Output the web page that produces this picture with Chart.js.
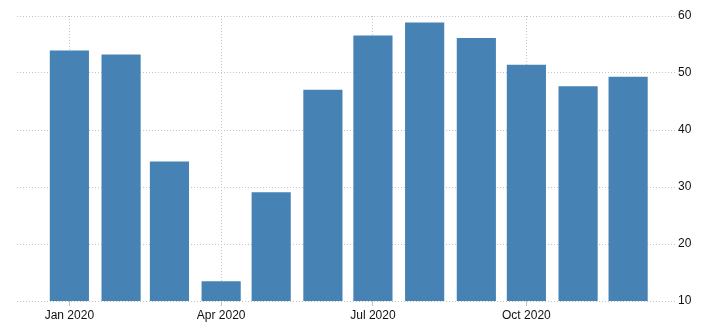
<!DOCTYPE html>
<html>
<head>
<meta charset="utf-8">
<script src="https://cdn.jsdelivr.net/npm/chart.js@4/dist/chart.umd.min.js"></script>
<style>
  html, body { margin: 0; padding: 0; background: #fff; }
  #wrap { width: 711px; height: 335px; position: relative; }
</style>
</head>
<body>
<div id="wrap"><canvas id="c" width="711" height="335"></canvas></div>
<script>
// Categories: month start dates
const months = ['2020-01-01','2020-02-01','2020-03-01','2020-04-01','2020-05-01','2020-06-01',
                '2020-07-01','2020-08-01','2020-09-01','2020-10-01','2020-11-01','2020-12-01'];
// Series values
const values = [53.9, 53.2, 34.4, 13.4, 29.0, 47.0, 56.5, 58.8, 56.1, 51.4, 47.6, 49.3];
// X tick dates and labels
const xTickDates = ['2020-01-01','2020-04-01','2020-07-01','2020-10-01'];
const xTickLabels = ['Jan 2020','Apr 2020','Jul 2020','Oct 2020'];
// Y ticks
const yTicks = [10, 20, 30, 40, 50, 60];

const DAY = 86400000;
const origin = Date.UTC(2020, 0, 1);
function dayOf(s) {
  const [y, m, d] = s.split('-').map(Number);
  return Math.round((Date.UTC(y, m - 1, d) - origin) / DAY);
}
const points = months.map((m, i) => ({ x: dayOf(m), y: values[i] }));
const xTickVals = xTickDates.map(dayOf);
const labelMap = {};
xTickVals.forEach((v, i) => { labelMap[v] = xTickLabels[i]; });

const font = { family: '"Liberation Sans", Arial, sans-serif', size: 12 };

new Chart(document.getElementById('c'), {
  type: 'bar',
  data: {
    datasets: [{
      data: points,
      backgroundColor: '#4682B4',
      borderWidth: 0,
      barThickness: 38.5
    }]
  },
  options: {
    responsive: false,
    animation: false,
    devicePixelRatio: 1,
    layout: { padding: { left: 17, top: 16, right: 0, bottom: 0 } },
    plugins: { legend: { display: false }, tooltip: { enabled: false } },
    scales: {
      x: {
        type: 'linear',
        offset: false,
        min: -31.4,
        max: 363.7,
        afterBuildTicks: (scale) => { scale.ticks = xTickVals.map(v => ({ value: v })); },
        afterFit: (scale) => { scale.height = 34; },
        border: { display: false, dash: [1, 2] },
        grid: {
          offset: false,
          color: '#c4c4c4',
          lineWidth: 1,
          tickLength: 5,
          tickBorderDash: [],
          tickColor: '#c4c4c4',
          drawTicks: true
        },
        ticks: {
          autoSkip: false,
          maxRotation: 0,
          padding: 2,
          color: '#111',
          font: font,
          callback: (v) => labelMap[v] || ''
        }
      },
      y: {
        position: 'right',
        min: 10,
        max: 60,
        afterBuildTicks: (scale) => { scale.ticks = yTicks.map(v => ({ value: v })); },
        afterFit: (scale) => { scale.width = 35; },
        border: { display: false, dash: [1, 2] },
        grid: { color: '#c4c4c4', lineWidth: 1, drawTicks: false },
        ticks: { padding: 2, color: '#111', font: font }
      }
    }
  }
});
</script>
</body>
</html>
